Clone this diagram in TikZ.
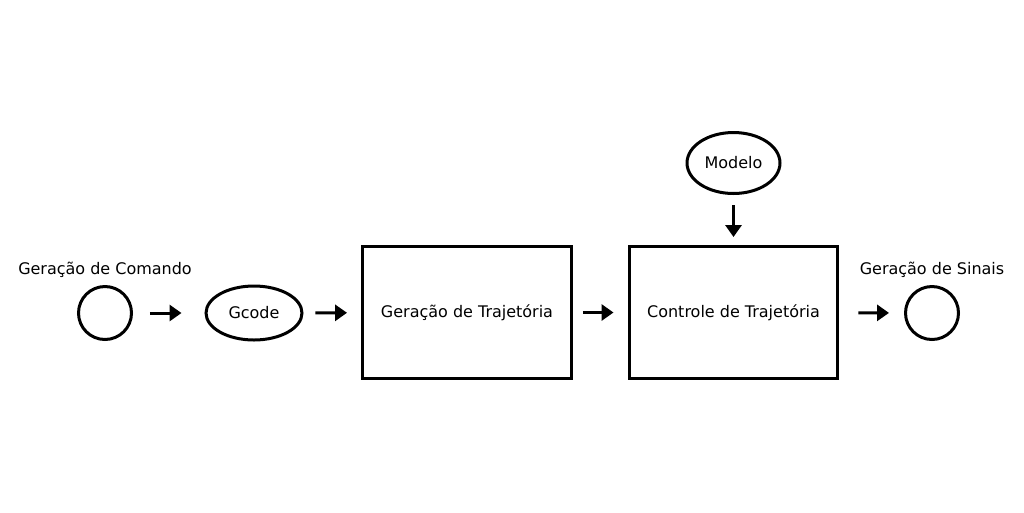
\documentclass[tikz,border=0pt]{standalone}
\usepackage{fontspec}
\setmainfont{DejaVu Sans}
\usetikzlibrary{shapes.geometric,arrows.meta}

\begin{document}
\begin{tikzpicture}[x=0.02cm, y=-0.02cm,
    every node/.style={font=\fontsize{9.1}{11}\selectfont},
    endpoint/.style={draw, circle, line width=0.06cm, minimum size=1.06cm, inner sep=0},
    source/.style={draw, ellipse, line width=0.06cm, inner sep=0},
    block/.style={draw, rectangle, line width=0.06cm, minimum width=4.18cm, minimum height=2.64cm, inner sep=0},
    flow/.style={-{Triangle[length=0.24cm, width=0.32cm]}, line width=0.06cm}]
    \useasboundingbox (0, 0) rectangle (1024, 512);

    \node [endpoint] (command) at (105, 313) {};
    \node (commandLabel) at (105, 270) {Geração de Comando};
    \node [source, minimum width=1.92cm, minimum height=1.08cm] (gcode) at (254, 313) {Gcode};
    \node [block] (trajGen) at (467, 312.5) {Geração de Trajetória};
    \node [block] (trajCtrl) at (733.5, 312.5) {Controle de Trajetória};
    \node [source, minimum width=1.86cm, minimum height=1.22cm] (model) at (733.5, 163) {Modelo};
    \node [endpoint] (signals) at (932, 313) {};
    \node (signalsLabel) at (932, 270) {Geração de Sinais};

    \draw [flow, shorten <=0.34cm, shorten >=0.46cm] (command) -- (gcode);
    \draw [flow, shorten <=0.24cm, shorten >=0.28cm] (gcode) -- (trajGen);
    \draw [flow, shorten <=0.2cm, shorten >=0.28cm] (trajGen) -- (trajCtrl);
    \draw [flow, shorten <=0.38cm, shorten >=0.3cm] (trajCtrl) -- (signals);

    \draw [flow, shorten <=0.2cm, shorten >=0.16cm] (model) -- (trajCtrl);
\end{tikzpicture}
\end{document}
